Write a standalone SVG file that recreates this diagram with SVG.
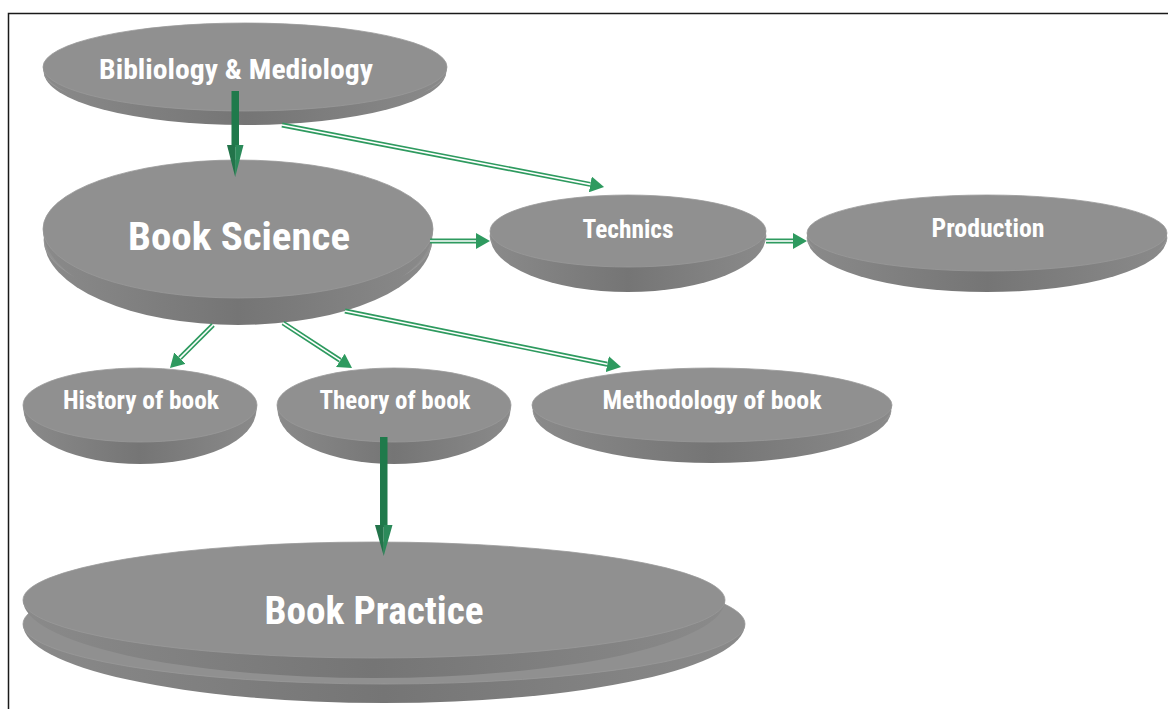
<svg xmlns="http://www.w3.org/2000/svg" width="1168" height="709" viewBox="0 0 1168 709">
<defs>
<linearGradient id="side" x1="0" y1="0" x2="1" y2="0">
<stop offset="0" stop-color="#8a8a8a"/>
<stop offset="0.5" stop-color="#757575"/>
<stop offset="1" stop-color="#8a8a8a"/>
</linearGradient>
<marker id="ah" markerUnits="userSpaceOnUse" markerWidth="14" markerHeight="16" refX="0" refY="8" orient="auto">
<path d="M0,0 L14,8 L0,16 Z" fill="#2e9a5f"/>
</marker>
</defs>
<style>
.side{fill:url(#side);}
.face{fill:#909090;stroke:#999999;stroke-width:0.8;}
.lbl{fill:#ffffff;font-family:"Liberation Sans Narrow","Roboto Condensed","Liberation Sans",sans-serif;font-weight:bold;font-stretch:condensed;text-anchor:middle;}
.out{fill:none;stroke:#2e9a5f;stroke-width:5;}
.inn{fill:none;stroke:#ffffff;stroke-width:1.6;}
.shaft{fill:#1f7a4b;}
.hl{fill:#22744a;}
.hr{fill:#2b8a5a;}
</style>
<rect x="8.5" y="13.5" width="1200" height="800" fill="none" stroke="#1a1a1a" stroke-width="1.5"/>

<g id="node-bibliology">
<path class="side" d="M44,72 A201,53 0 0 0 446,72 Z"/>
<ellipse class="face" cx="245" cy="72" rx="201" ry="43"/>
<path class="side" d="M43,67 A202,54 0 0 0 447,67 Z"/>
<ellipse class="face" cx="245" cy="67" rx="202" ry="44"/>
<text class="lbl" x="236" y="79" font-size="28" textLength="274" lengthAdjust="spacingAndGlyphs">Bibliology &amp; Mediology</text>
</g>

<g id="node-book-science">
<path class="side" d="M44,240 A194,85 0 0 0 432,240 Z"/>
<ellipse class="face" cx="238" cy="240" rx="194" ry="68"/>
<path class="side" d="M43,229 A195,89 0 0 0 433,229 Z"/>
<ellipse class="face" cx="238" cy="229" rx="195" ry="69"/>
<text class="lbl" x="239" y="250" font-size="38" textLength="222" lengthAdjust="spacingAndGlyphs">Book Science</text>
</g>

<g id="node-technics">
<path class="side" d="M490,236 A138,56 0 0 0 766,236 Z"/>
<ellipse class="face" cx="628" cy="236" rx="138" ry="36"/>
<path class="side" d="M490,231 A138,58 0 0 0 766,231 Z"/>
<ellipse class="face" cx="628" cy="231" rx="138" ry="36"/>
<text class="lbl" x="628" y="238" font-size="26" textLength="91" lengthAdjust="spacingAndGlyphs">Technics</text>
</g>

<g id="node-production">
<path class="side" d="M807,238 A180,54 0 0 0 1167,238 Z"/>
<ellipse class="face" cx="987" cy="238" rx="180" ry="38"/>
<path class="side" d="M807,233 A180,56 0 0 0 1167,233 Z"/>
<ellipse class="face" cx="987" cy="233" rx="180" ry="38"/>
<text class="lbl" x="988" y="237" font-size="26" textLength="113" lengthAdjust="spacingAndGlyphs">Production</text>
</g>

<g id="node-history">
<path class="side" d="M24,411 A116,53 0 0 0 256,411 Z"/>
<ellipse class="face" cx="140" cy="411" rx="116" ry="36"/>
<path class="side" d="M23,405 A117,56 0 0 0 257,405 Z"/>
<ellipse class="face" cx="140" cy="405" rx="117" ry="37"/>
<text class="lbl" x="141" y="409" font-size="26" textLength="156" lengthAdjust="spacingAndGlyphs">History of book</text>
</g>

<g id="node-theory">
<path class="side" d="M278,411 A116,53 0 0 0 510,411 Z"/>
<ellipse class="face" cx="394" cy="411" rx="116" ry="36"/>
<path class="side" d="M277,405 A117,56 0 0 0 511,405 Z"/>
<ellipse class="face" cx="394" cy="405" rx="117" ry="37"/>
<text class="lbl" x="395" y="409" font-size="26" textLength="151" lengthAdjust="spacingAndGlyphs">Theory of book</text>
</g>

<g id="node-methodology">
<path class="side" d="M533,411 A179,52 0 0 0 891,411 Z"/>
<ellipse class="face" cx="712" cy="411" rx="179" ry="36"/>
<path class="side" d="M532,405 A180,55 0 0 0 892,405 Z"/>
<ellipse class="face" cx="712" cy="405" rx="180" ry="37"/>
<text class="lbl" x="712" y="409" font-size="26" textLength="219" lengthAdjust="spacingAndGlyphs">Methodology of book</text>
</g>

<g id="node-book-practice">
<path class="side" d="M23,624 A361,79 0 0 0 745,624 Z"/>
<ellipse class="face" cx="384" cy="624" rx="361" ry="60"/>
<path class="side" d="M23,600 A351,78 0 0 0 725,600 Z"/>
<ellipse class="face" cx="374" cy="600" rx="351" ry="58"/>
<text class="lbl" x="374" y="624" font-size="38" textLength="219" lengthAdjust="spacingAndGlyphs">Book Practice</text>
</g>

<g id="connectors">
<path class="out" marker-end="url(#ah)" d="M282,125 L590.3,184.4"/>
<path class="inn" d="M282,125 L590.3,184.4"/>
<path class="out" marker-end="url(#ah)" d="M430,241 L476,241"/>
<path class="inn" d="M430,241 L476,241"/>
<path class="out" marker-end="url(#ah)" d="M766,241 L793,241"/>
<path class="inn" d="M766,241 L793,241"/>
<path class="out" marker-end="url(#ah)" d="M213,325 L179.9,358.1"/>
<path class="inn" d="M213,325 L179.9,358.1"/>
<path class="out" marker-end="url(#ah)" d="M283,323 L340.3,360.4"/>
<path class="inn" d="M283,323 L340.3,360.4"/>
<path class="out" marker-end="url(#ah)" d="M345,311 L607.3,364.2"/>
<path class="inn" d="M345,311 L607.3,364.2"/>
<rect class="shaft" x="231.5" y="91" width="7.5" height="56"/>
<polygon class="hl" points="227,145 235.2,145 235.2,177"/>
<polygon class="hr" points="235.2,145 243.5,145 235.2,177"/>
<rect class="shaft" x="380" y="437" width="7.5" height="90"/>
<polygon class="hl" points="375,525 383.7,525 383.7,556"/>
<polygon class="hr" points="383.7,525 392.5,525 383.7,556"/>
</g>
</svg>
